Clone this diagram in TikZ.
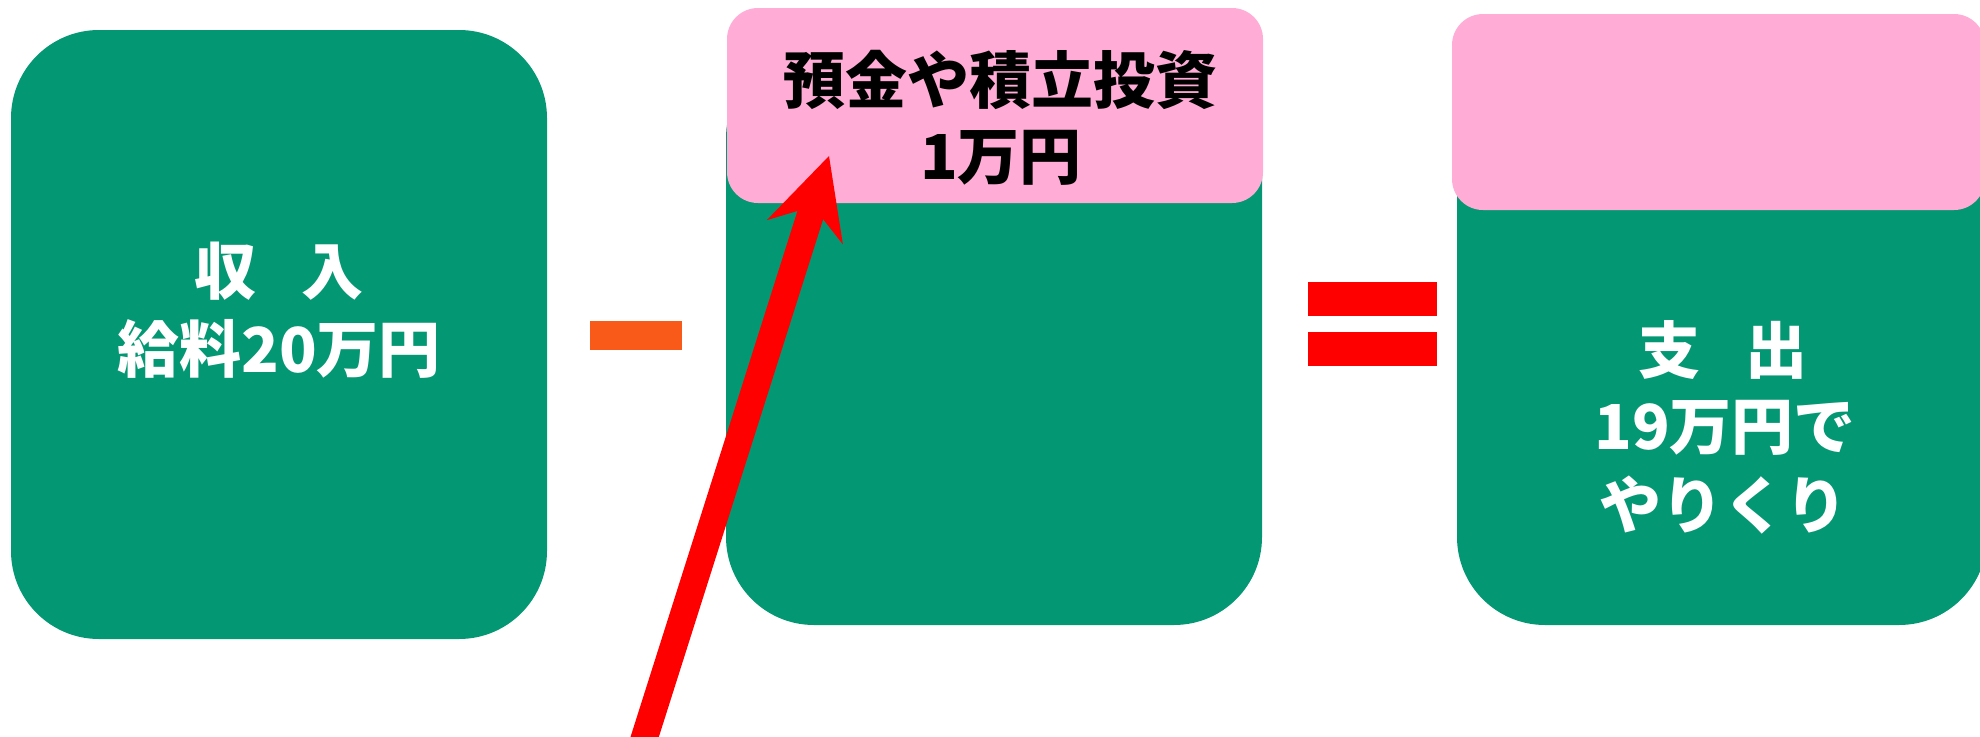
\documentclass[tikz,border=0pt]{standalone}
\usepackage{fontspec}
\newfontfamily\jp{Noto Sans CJK JP}
\definecolor{boxgreen}{RGB}{3,152,115}
\definecolor{boxpink}{RGB}{255,173,214}
\definecolor{minusorange}{RGB}{250,90,25}
\definecolor{arrowred}{RGB}{255,0,0}
\tikzset{
  greenbox/.style={fill=boxgreen, draw=none, inner sep=0pt, rounded corners=88pt},
  pinkbox/.style={fill=boxpink, draw=none, inner sep=0pt, rounded corners=31pt},
  opbar/.style={draw=none, inner sep=0pt},
  whitetxt/.style={text=white, font=\jp\bfseries\fontsize{62}{70}\selectfont, anchor=base, inner sep=0pt},
  blacktxt/.style={text=black, font=\jp\bfseries\fontsize{62}{70}\selectfont, anchor=base, inner sep=0pt},
  shaft/.style={draw=arrowred, line width=27pt},
  head/.style={fill=arrowred, draw=none}
}
\begin{document}
\begin{tikzpicture}[x=1pt,y=-1pt]
\useasboundingbox (0,0) rectangle (1980,736);
% boxes
\node[greenbox, minimum width=536pt, minimum height=609pt] (income) at (279,334.5) {};
\node[greenbox, minimum width=536pt, minimum height=575pt] (savegreen) at (994,337.5) {};
\node[pinkbox, minimum width=536pt, minimum height=195pt] (savepink) at (995,105.5) {};
\node[greenbox, minimum width=530pt, minimum height=525pt] (spend) at (1722,362.5) {};
\node[pinkbox, minimum width=533pt, minimum height=196pt] (spendpink) at (1718.5,112) {};
% operators
\node[opbar, fill=minusorange, minimum width=92pt, minimum height=29pt] (minus) at (636,335.5) {};
\node[opbar, fill=arrowred, minimum width=129pt, minimum height=34pt] (eqtop) at (1372.5,299) {};
\node[opbar, fill=arrowred, minimum width=129pt, minimum height=34pt] (eqbot) at (1372.5,349) {};
% texts
\node[whitetxt] (inc1) at (279,294) {収\hspace{45pt}入};
\node[whitetxt] (inc2) at (279,372) {給料20万円};
\node[blacktxt] (sav1) at (1000,103) {預金や積立投資};
\node[blacktxt] (sav2) at (1001,179) {1万円};
\node[whitetxt] (sp1) at (1723,373) {支\hspace{45pt}出};
\node[whitetxt] (sp2) at (1725,449) {19万円で};
\node[whitetxt] (sp3) at (1723,528) {やりくり};
% arrow
\coordinate (abase) at (639.9,752);
\coordinate (aneck) at (811.5,211.3);
\coordinate (atip) at (829,156);
\coordinate (awl) at (766.7,220.2);
\coordinate (anl) at (797.4,211.0);
\coordinate (anr) at (823.1,219.2);
\coordinate (awr) at (842.9,244.4);
\draw[shaft] (abase) -- (aneck);
\fill[head] (atip) -- (awl) -- (anl) -- (anr) -- (awr) -- cycle;
\end{tikzpicture}
\end{document}
